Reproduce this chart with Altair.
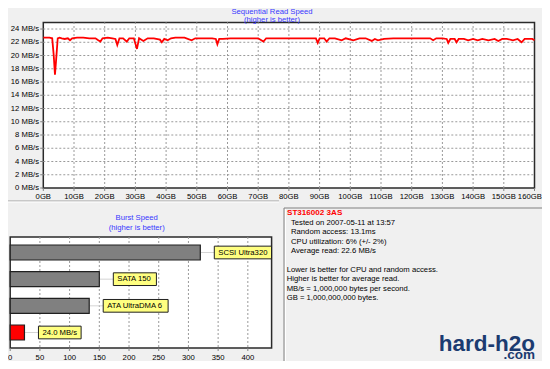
import altair as alt
import pandas as pd

# ---------------- data ----------------
read_gb = [0, 1, 2, 2.9, 3.4, 3.8, 4.2, 4.7, 5.3, 6, 7, 8, 8.7, 9.4, 11, 13, 15, 17, 17.9, 18.6, 19.3,
           21, 22.5, 23.5, 24.1, 24.8, 26, 27.2, 28, 29.5, 30.5, 31.2, 32.6, 34, 36, 38, 38.6, 39.4,
           40.5, 41.6, 43, 46, 48.3, 49.5, 52, 55, 56.2, 56.7, 57.3, 58.5, 61, 64, 67, 70, 71.7, 72.6,
           75, 78, 81, 84, 87, 88.8, 89.4, 90, 91.5, 92.3, 93.2, 95, 97.2, 98.5, 101, 103, 105, 107,
           108, 109, 111, 114, 117, 120, 123, 126, 127, 128, 130, 131.4, 131.9, 132.6, 134, 134.6,
           135.3, 137, 138.4, 140, 141.5, 143, 145, 147, 148.2, 149.5, 151, 153, 154.5, 155.8, 156.8,
           158, 159.3, 160]
read_mbs = [22.7, 22.7, 22.7, 22.6, 20.0, 17.1, 19.5, 22.6, 22.7, 22.6, 22.5, 22.6, 22.3, 22.6, 22.7,
            22.7, 22.6, 22.6, 22.3, 22.1, 22.6, 22.7, 22.6, 22.5, 21.6, 22.6, 22.6, 22.1, 22.6, 22.6,
            21.0, 22.6, 22.2, 22.6, 22.6, 22.4, 22.0, 22.5, 22.3, 22.6, 22.7, 22.7, 22.3, 22.6, 22.6,
            22.6, 22.5, 21.7, 22.5, 22.5, 22.6, 22.6, 22.6, 22.6, 22.1, 22.6, 22.6, 22.6, 22.6, 22.6,
            22.6, 22.6, 21.9, 22.6, 22.6, 22.1, 22.6, 22.6, 22.3, 22.6, 22.3, 22.6, 22.6, 22.2, 22.5,
            22.3, 22.5, 22.6, 22.6, 22.6, 22.6, 22.6, 22.3, 22.6, 22.6, 22.5, 21.9, 22.5, 22.5, 22.0,
            22.5, 22.5, 22.3, 22.5, 22.3, 22.5, 22.3, 22.5, 22.2, 22.5, 22.5, 22.3, 22.5, 22.0, 22.5,
            22.5, 22.5, 22.3]
read_y_ticks = [0, 2, 4, 6, 8, 10, 12, 14, 16, 18, 20, 22, 24]
read_x_ticks = [0, 10, 20, 30, 40, 50, 60, 70, 80, 90, 100, 110, 120, 130, 140, 150, 160]

burst_names = ["SCSI Ultra320", "SATA 150", "ATA UltraDMA 6", "24.0 MB/s"]
burst_mbs = [320, 150, 133, 24.0]
burst_group = ["interface", "interface", "interface", "drive"]
burst_ticks = [0, 50, 100, 150, 200, 250, 300, 350, 400]

title_main = ["Sequential Read Speed", "(higher is better)"]
title_burst = ["Burst Speed", "(higher is better)"]
drive_name = "ST316002 3AS"
drive_stats = ["Tested on 2007-05-11 at 13:57", "Random access: 13.1ms",
               "CPU utilization: 6% (+/- 2%)", "Average read: 22.6 MB/s"]
notes = ["Lower is better for CPU and random access.", "Higher is better for average read.",
         "MB/s = 1,000,000 bytes per second.", "GB = 1,000,000,000 bytes."]
watermark = ["hard-h2o", ".com"]

# ---------------- layout / style ----------------
W, H = 534, 353
FONT = "Liberation Sans"
FS = 7.7
BG = "#f0f0f0"
TITLE_BLUE = "#3838ff"
GRID = "#9a9a9a"
TICK = "#808080"

TX = [35.3, 526.5]
TY = [180.0, 14.4]
sx = alt.Scale(domain=[0, 160], range=TX, nice=False, zero=False)
sy = alt.Scale(domain=[0, 25], range=TY, nice=False, zero=False)

BX = [2.2, 263.6]
BY = [229, 340]
bx = alt.Scale(domain=[0, 440], range=BX, nice=False, zero=True)
by = alt.Scale(domain=burst_names, range=BY, paddingInner=0.4375, paddingOuter=0.3)
UNITS_PER_PX = 440 / (BX[1] - BX[0])

# Arial / Liberation Sans advance widths (per 1000 em) to size the label boxes
CW = {"S": 667, "C": 722, "I": 278, " ": 278, "U": 722, "l": 222, "t": 278, "r": 333, "a": 556,
      "A": 667, "T": 611, "D": 722, "M": 833, "B": 667, "/": 278, "s": 500, ".": 278}


def text_px(s, size=FS):
    return sum(CW.get(ch, 556) for ch in s) * size / 1000.0


one = pd.DataFrame({"k": [0]})
lab_style = dict(font=FONT, fontSize=FS, color="black")

# ---------------- top: sequential read ----------------
read_df = pd.DataFrame({"gb": read_gb, "mbs": read_mbs})
yt_df = pd.DataFrame({"v": read_y_ticks})
xt_df = pd.DataFrame({"v": read_x_ticks})

top_frame = alt.Chart(one).mark_rect(fill="white", stroke="#2a2a2a", strokeWidth=1.5).encode(
    x=alt.XDatum(0, type="quantitative", scale=sx, axis=None),
    x2=alt.X2Datum(160),
    y=alt.YDatum(0, type="quantitative", scale=sy, axis=None),
    y2=alt.Y2Datum(25),
)
top_hgrid = alt.Chart(yt_df).transform_filter("datum.v > 0").mark_rule(
    color=GRID, strokeDash=[2, 2], strokeWidth=1).encode(
    y=alt.Y("v:Q", scale=sy, axis=None),
    x=alt.XDatum(0, type="quantitative", scale=sx, axis=None),
    x2=alt.X2Datum(160),
)
top_vgrid = alt.Chart(xt_df).transform_filter("datum.v > 0 && datum.v < 160").mark_rule(
    color=GRID, strokeDash=[2, 2], strokeWidth=1).encode(
    x=alt.X("v:Q", scale=sx, axis=None),
    y=alt.YDatum(0, type="quantitative", scale=sy, axis=None),
    y2=alt.Y2Datum(25),
)
top_yticks = alt.Chart(yt_df).mark_rule(color=TICK, strokeWidth=1).encode(
    y=alt.Y("v:Q", scale=sy, axis=None),
    x=alt.XDatum(-1.0, type="quantitative", scale=sx, axis=None),
    x2=alt.X2Datum(0),
)
top_ylabels = alt.Chart(yt_df).transform_calculate(lab="datum.v + ' MB/s'").mark_text(
    align="right", baseline="middle", **lab_style).encode(
    y=alt.Y("v:Q", scale=sy, axis=None),
    x=alt.XDatum(-1.4, type="quantitative", scale=sx, axis=None),
    text="lab:N",
)
top_xticks = alt.Chart(xt_df).mark_rule(color=TICK, strokeWidth=1).encode(
    x=alt.X("v:Q", scale=sx, axis=None),
    y=alt.YDatum(0, type="quantitative", scale=sy, axis=None),
    y2=alt.Y2Datum(-0.45),
)
top_xlabels = alt.Chart(xt_df).transform_filter("datum.v < 160").transform_calculate(
    lab="datum.v + 'GB'").mark_text(align="center", baseline="middle", **lab_style).encode(
    x=alt.X("v:Q", scale=sx, axis=None),
    y=alt.YDatum(-1.32, type="quantitative", scale=sy, axis=None),
    text="lab:N",
)
top_xlabel_last = alt.Chart(xt_df).transform_filter("datum.v == 160").transform_calculate(
    lab="datum.v + 'GB'").mark_text(align="right", baseline="middle", dx=7.3, **lab_style).encode(
    x=alt.X("v:Q", scale=sx, axis=None),
    y=alt.YDatum(-1.32, type="quantitative", scale=sy, axis=None),
    text="lab:N",
)
top_line = alt.Chart(read_df).mark_line(color="#ff0000", strokeWidth=1.8).encode(
    x=alt.X("gb:Q", scale=sx, axis=None),
    y=alt.Y("mbs:Q", scale=sy, axis=None),
)
top = alt.layer(top_frame, top_hgrid, top_vgrid, top_yticks, top_ylabels, top_xticks,
                top_xlabels, top_xlabel_last, top_line)

# ---------------- bottom-left: burst speed ----------------
burst_df = pd.DataFrame({"name": burst_names, "mbs": burst_mbs, "group": burst_group,
                         "w": [text_px(s) + 8 for s in burst_names]})
bt_df = pd.DataFrame({"v": burst_ticks})

b_frame = alt.Chart(one).mark_rect(fill="white", stroke="#2a2a2a", strokeWidth=1.5).encode(
    x=alt.XDatum(0, type="quantitative", scale=bx, axis=None),
    x2=alt.X2Datum(440),
    y=alt.value(BY[0]), y2=alt.value(BY[1]),
)
b_grid = alt.Chart(bt_df).transform_filter("datum.v > 0").mark_rule(
    color=GRID, strokeDash=[2, 2], strokeWidth=1).encode(
    x=alt.X("v:Q", scale=bx, axis=None),
    y=alt.value(BY[0]), y2=alt.value(BY[1]),
)
b_ticks = alt.Chart(bt_df).mark_rule(color=TICK, strokeWidth=1).encode(
    x=alt.X("v:Q", scale=bx, axis=None),
    y=alt.value(BY[1]), y2=alt.value(BY[1] + 3),
)
b_labels = alt.Chart(bt_df).mark_text(align="center", baseline="middle", **lab_style).encode(
    x=alt.X("v:Q", scale=bx, axis=None),
    y=alt.value(BY[1] + 9.5),
    text="v:Q",
)
b_base = alt.Chart(burst_df).transform_calculate(
    box_x=f"datum.mbs + 14 * {UNITS_PER_PX}",
    box_x2=f"datum.mbs + (14 + datum.w) * {UNITS_PER_PX}",
)
b_conn = b_base.mark_rule(color="#d4d4d4", strokeWidth=1).encode(
    x=alt.X("mbs:Q", scale=bx, axis=None), x2="box_x:Q",
    y=alt.Y("name:N", scale=by, axis=None, sort=burst_names),
)
b_bars = b_base.mark_bar(stroke="#202020", strokeWidth=1.2).encode(
    x=alt.X("mbs:Q", scale=bx, axis=None),
    y=alt.Y("name:N", scale=by, axis=None, sort=burst_names),
    color=alt.Color("group:N", scale=alt.Scale(domain=["interface", "drive"],
                                               range=["#808080", "#ff0000"]), legend=None),
)
b_boxes = b_base.mark_bar(size=12.7, fill="#ffff80", stroke="#202020", strokeWidth=1).encode(
    x=alt.X("box_x:Q", scale=bx, axis=None), x2="box_x2:Q",
    y=alt.Y("name:N", scale=by, axis=None, sort=burst_names),
)
b_text = b_base.mark_text(align="left", baseline="middle", dx=4, **lab_style).encode(
    x=alt.X("box_x:Q", scale=bx, axis=None),
    y=alt.Y("name:N", scale=by, axis=None, sort=burst_names),
    text="name:N",
)
burst = alt.layer(b_frame, b_grid, b_ticks, b_labels, b_conn, b_bars, b_boxes, b_text)


# ---------------- texts & decorations ----------------
def txt(content, x, y, **kw):
    style = dict(font=FONT, fontSize=FS, color="black", align="left", baseline="alphabetic")
    style.update(kw)
    return alt.Chart(one).mark_text(**style).encode(
        x=alt.value(x), y=alt.value(y), text=alt.value(content))


def hline(x, x2, y, color):
    return alt.Chart(one).mark_rule(color=color, strokeWidth=1).encode(
        x=alt.value(x), x2=alt.value(x2), y=alt.value(y))


def vline(x, y, y2, color):
    return alt.Chart(one).mark_rule(color=color, strokeWidth=1).encode(
        x=alt.value(x), y=alt.value(y), y2=alt.value(y2))


decor = [
    txt(title_main[0], 264, 3.95, align="center", baseline="middle", color=TITLE_BLUE),
    txt(title_main[1], 264, 11.7, align="center", baseline="middle", color=TITLE_BLUE),
    txt(title_burst[0], 128.7, 210.3, align="center", baseline="middle", color=TITLE_BLUE),
    txt(title_burst[1], 128.7, 219.7, align="center", baseline="middle", color=TITLE_BLUE),
    hline(0, 271, 193, "#a0a0a0"),
    hline(0, 271, 194, "#ffffff"),
    hline(276, W, 200, "#808080"),
    vline(276, 200, H, "#808080"),
    vline(277.5, 201, H, "#ffffff"),
    txt(drive_name, 279, 206.6, fontWeight="bold", fontSize=8.1, color="#ff0000"),
    txt(drive_stats, 283, 216.5, lineHeight=9.55),
    txt(notes, 278.7, 263.8, lineHeight=9.45),
    txt(watermark[0], 527, 342.8, align="right", fontWeight="bold", fontSize=22.5, color="#1b3b70"),
    txt(watermark[1], 527, 350.6, align="right", fontWeight="bold", fontSize=13.5, color="#1b3b70"),
]

chart = alt.layer(top, burst, *decor).resolve_scale(
    x="independent", y="independent"
).properties(
    width=W, height=H, background=BG, padding=0,
    autosize=alt.AutoSizeParams(type="none"),
).configure_view(stroke=None)

chart.save("out.html", embed_options={"renderer": "svg", "actions": False})
